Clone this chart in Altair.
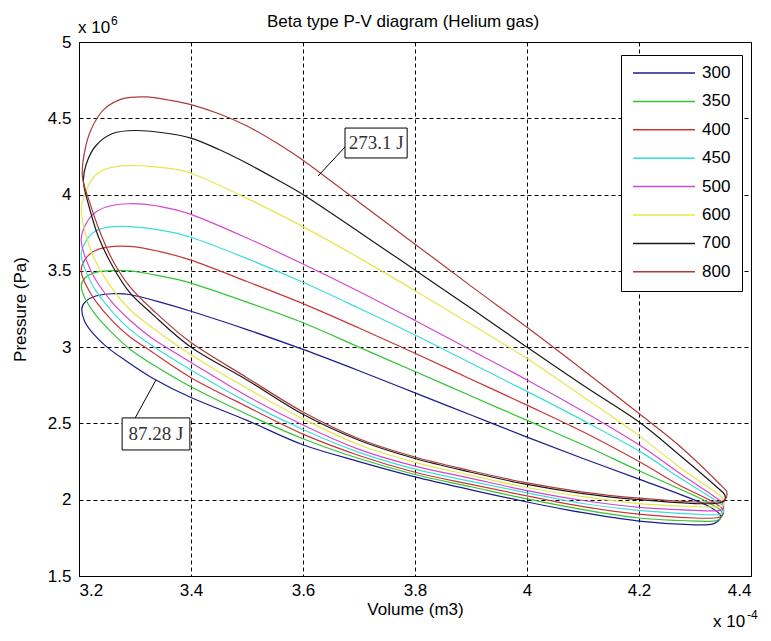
import altair as alt
import pandas as pd

# ---------------- data (V in 1e-4 m3, P in 1e6 Pa) ----------------
temps = ["300", "350", "400", "450", "500", "600", "700", "800"]
colors = ["#1c1c8c", "#33c433", "#c83737", "#3ddcdc", "#d247d2", "#e6e64a", "#1a1a1a", "#b03a3a"]

v300 = [3.205, 3.212, 3.23, 3.26, 3.29, 3.34, 3.40, 3.50, 3.60, 3.70, 3.80, 3.90, 4.00, 4.10, 4.20, 4.27, 4.32, 4.345,
        4.335, 4.30, 4.20, 4.10, 4.00, 3.90, 3.80, 3.70, 3.60, 3.50, 3.40, 3.33, 3.28, 3.25, 3.225, 3.21]
p300 = [3.25, 3.30, 3.335, 3.35, 3.345, 3.30, 3.235, 3.115, 2.985, 2.845, 2.70, 2.555, 2.41, 2.27, 2.135, 2.04, 1.965, 1.90,
        1.845, 1.835, 1.86, 1.915, 1.985, 2.065, 2.15, 2.25, 2.36, 2.52, 2.67, 2.80, 2.92, 3.0, 3.09, 3.17]

v350 = [3.204, 3.21, 3.225, 3.25, 3.29, 3.34, 3.40, 3.50, 3.60, 3.70, 3.80, 3.90, 4.00, 4.10, 4.20, 4.27, 4.325, 4.348,
        4.34, 4.30, 4.20, 4.10, 4.00, 3.90, 3.80, 3.70, 3.60, 3.50, 3.40, 3.33, 3.29, 3.26, 3.23, 3.212]
p350 = [3.40, 3.45, 3.485, 3.50, 3.50, 3.47, 3.42, 3.295, 3.16, 3.0, 2.84, 2.68, 2.52, 2.36, 2.19, 2.075, 1.98, 1.92,
        1.865, 1.86, 1.88, 1.935, 2.005, 2.085, 2.165, 2.27, 2.40, 2.56, 2.74, 2.89, 2.99, 3.09, 3.21, 3.31]

v400 = [3.204, 3.21, 3.225, 3.25, 3.29, 3.34, 3.40, 3.50, 3.60, 3.70, 3.80, 3.90, 4.00, 4.10, 4.20, 4.27, 4.33, 4.35,
        4.343, 4.30, 4.20, 4.10, 4.00, 3.90, 3.80, 3.70, 3.60, 3.50, 3.40, 3.33, 3.29, 3.26, 3.23, 3.212]
p400 = [3.50, 3.57, 3.625, 3.655, 3.66, 3.63, 3.57, 3.43, 3.285, 3.125, 2.96, 2.79, 2.62, 2.445, 2.25, 2.10, 1.99, 1.935,
        1.885, 1.88, 1.905, 1.955, 2.025, 2.10, 2.18, 2.29, 2.43, 2.61, 2.80, 2.97, 3.07, 3.17, 3.30, 3.41]

v450 = [3.204, 3.21, 3.225, 3.25, 3.29, 3.34, 3.40, 3.50, 3.60, 3.70, 3.80, 3.90, 4.00, 4.10, 4.20, 4.27, 4.335, 4.35,
        4.345, 4.30, 4.20, 4.10, 4.00, 3.90, 3.80, 3.70, 3.60, 3.50, 3.40, 3.33, 3.29, 3.26, 3.23, 3.212]
p450 = [3.60, 3.68, 3.75, 3.785, 3.79, 3.77, 3.72, 3.58, 3.425, 3.255, 3.08, 2.895, 2.71, 2.52, 2.32, 2.15, 2.0, 1.955,
        1.905, 1.905, 1.93, 1.975, 2.045, 2.12, 2.20, 2.31, 2.46, 2.64, 2.85, 3.01, 3.12, 3.23, 3.37, 3.50]

v500 = [3.204, 3.21, 3.225, 3.25, 3.29, 3.34, 3.40, 3.50, 3.60, 3.70, 3.80, 3.90, 4.00, 4.10, 4.20, 4.27, 4.335, 4.35,
        4.345, 4.30, 4.20, 4.10, 4.00, 3.90, 3.80, 3.70, 3.60, 3.50, 3.40, 3.33, 3.29, 3.26, 3.23, 3.212]
p500 = [3.70, 3.79, 3.87, 3.92, 3.94, 3.925, 3.87, 3.715, 3.545, 3.365, 3.175, 2.98, 2.785, 2.58, 2.36, 2.18, 2.02, 1.97,
        1.93, 1.93, 1.95, 1.995, 2.06, 2.14, 2.22, 2.33, 2.49, 2.68, 2.90, 3.06, 3.18, 3.29, 3.44, 3.58]

v600 = [3.204, 3.21, 3.225, 3.25, 3.29, 3.34, 3.40, 3.50, 3.60, 3.70, 3.80, 3.90, 4.00, 4.10, 4.20, 4.27, 4.34, 4.352,
        4.345, 4.30, 4.20, 4.10, 4.00, 3.90, 3.80, 3.70, 3.60, 3.50, 3.40, 3.33, 3.29, 3.26, 3.23, 3.212]
p600 = [3.90, 4.0, 4.11, 4.17, 4.19, 4.18, 4.14, 3.975, 3.79, 3.585, 3.37, 3.15, 2.925, 2.675, 2.42, 2.22, 2.04, 1.99,
        1.955, 1.955, 1.975, 2.02, 2.08, 2.16, 2.245, 2.36, 2.53, 2.73, 2.95, 3.13, 3.25, 3.38, 3.56, 3.74]

v700 = [3.208, 3.213, 3.23, 3.26, 3.30, 3.35, 3.40, 3.45, 3.50, 3.55, 3.60, 3.70, 3.80, 3.90, 4.00, 4.10, 4.20, 4.27, 4.34, 4.354,
        4.345, 4.30, 4.20, 4.10, 4.00, 3.90, 3.80, 3.70, 3.60, 3.50, 3.40, 3.33, 3.29, 3.26, 3.235, 3.218]
p700 = [4.08, 4.20, 4.32, 4.40, 4.42, 4.405, 4.37, 4.295, 4.205, 4.105, 4.0, 3.755, 3.505, 3.255, 3.0, 2.75, 2.51, 2.30, 2.08, 2.02,
        1.98, 1.975, 2.0, 2.04, 2.10, 2.18, 2.27, 2.39, 2.56, 2.785, 3.0, 3.22, 3.36, 3.53, 3.72, 3.92]

v800 = [3.206, 3.21, 3.222, 3.245, 3.28, 3.32, 3.36, 3.40, 3.45, 3.50, 3.55, 3.60, 3.70, 3.80, 3.90, 4.00, 4.10, 4.20, 4.27, 4.345, 4.357,
        4.348, 4.30, 4.20, 4.10, 4.00, 3.90, 3.80, 3.70, 3.60, 3.50, 3.40, 3.33, 3.29, 3.26, 3.237, 3.218]
p800 = [4.12, 4.28, 4.43, 4.56, 4.63, 4.64, 4.62, 4.59, 4.53, 4.45, 4.345, 4.225, 3.95, 3.675, 3.40, 3.13, 2.85, 2.565, 2.36, 2.10, 2.04,
        1.99, 1.985, 2.01, 2.05, 2.11, 2.19, 2.28, 2.40, 2.575, 2.80, 3.03, 3.25, 3.40, 3.57, 3.76, 3.96]

x_ticks = [3.2, 3.4, 3.6, 3.8, 4.0, 4.2, 4.4]
y_ticks = [1.5, 2.0, 2.5, 3.0, 3.5, 4.0, 4.5, 5.0]

ann_text = ["273.1 J", "87.28 J"]
ann_x = [3.7305, 3.3375]
ann_y = [4.338, 2.431]
box_x1 = [3.675, 3.277]
box_x2 = [3.786, 3.398]
box_y1 = [4.24, 2.326]
box_y2 = [4.436, 2.536]
lead_x1 = [3.675, 3.300]
lead_y1 = [4.312, 2.534]
lead_x2 = [3.627, 3.3375]
lead_y2 = [4.122, 2.785]

# ---------------- build table ----------------
loops = {"300": (v300, p300), "350": (v350, p350), "400": (v400, p400), "450": (v450, p450),
         "500": (v500, p500), "600": (v600, p600), "700": (v700, p700), "800": (v800, p800)}
rows = []
for t in temps:
    vs, ps = loops[t]
    for i, (a, b) in enumerate(zip(vs, ps)):
        rows.append({"T": t, "V": a, "P": b, "i": i})
df = pd.DataFrame(rows)

ann = pd.DataFrame({"text": ann_text, "x": ann_x, "y": ann_y,
                    "bx1": box_x1, "bx2": box_x2, "by1": box_y1, "by2": box_y2,
                    "lx1": lead_x1, "ly1": lead_y1, "lx2": lead_x2, "ly2": lead_y2})

FONT = "Liberation Sans"
xs = alt.Scale(domain=[3.2, 4.4], nice=False, zero=False)
ys = alt.Scale(domain=[1.5, 5.0], nice=False, zero=False)

grid_kw = dict(grid=True, gridColor="black", gridDash=[4, 3], gridOpacity=1, gridWidth=1,
               ticks=False, domain=False, labelFont=FONT, labelFontSize=17, labelColor="black",
               titleFont=FONT, titleFontSize=17, titleFontWeight="normal", titleColor="black")

lines = alt.Chart(df).mark_line(strokeWidth=1.2, interpolate="cardinal-closed").encode(
    x=alt.X("V:Q", scale=xs, title="Volume (m3)",
            axis=alt.Axis(values=x_ticks, format="~g", labelPadding=6, titlePadding=3, **grid_kw)),
    y=alt.Y("P:Q", scale=ys, title="Pressure (Pa)",
            axis=alt.Axis(values=y_ticks, format="~g", labelPadding=8, titlePadding=18, **grid_kw)),
    color=alt.Color("T:N", scale=alt.Scale(domain=temps, range=colors),
                    legend=alt.Legend(title=None, orient="none", legendX=542, legendY=13,
                                      symbolType="stroke", symbolSize=3844, symbolStrokeWidth=1.5,
                                      clipHeight=14, rowPadding=11.4, padding=11, labelOffset=6,
                                      labelFont=FONT, labelFontSize=17, labelColor="black",
                                      strokeColor="black", fillColor="white", symbolOpacity=1)),
    order="i:Q",
)

leaders = alt.Chart(ann).mark_rule(color="black", strokeWidth=1).encode(
    x=alt.X("lx1:Q", scale=xs, title="Volume (m3)"), y=alt.Y("ly1:Q", scale=ys, title="Pressure (Pa)"),
    x2="lx2:Q", y2="ly2:Q")

boxes = alt.Chart(ann).mark_rect(fill="white", stroke="black", strokeWidth=1).encode(
    x=alt.X("bx1:Q", scale=xs, title="Volume (m3)"), x2="bx2:Q",
    y=alt.Y("by1:Q", scale=ys, title="Pressure (Pa)"), y2="by2:Q")

labels = alt.Chart(ann).mark_text(font="Liberation Serif", fontSize=19, color="#333333").encode(
    x=alt.X("x:Q", scale=xs, title="Volume (m3)"), y=alt.Y("y:Q", scale=ys, title="Pressure (Pa)"),
    text="text:N")

one = pd.DataFrame({"a": [0]})
title_txt = alt.Chart(one).mark_text(text="Beta type P-V diagram (Helium gas)", align="center",
                                     baseline="alphabetic", font=FONT, fontSize=17,
                                     color="black").encode(x=alt.value(324), y=alt.value(-15))
exp_y = alt.Chart(one).mark_text(text="x 10", align="left", baseline="alphabetic", font=FONT,
                                 fontSize=17, color="black").encode(x=alt.value(-1), y=alt.value(-9))
exp_y2 = alt.Chart(one).mark_text(text="6", align="left", baseline="alphabetic", font=FONT,
                                  fontSize=12, color="black").encode(x=alt.value(32), y=alt.value(-17))
exp_x = alt.Chart(one).mark_text(text="x 10", align="left", baseline="alphabetic", font=FONT,
                                 fontSize=17, color="black").encode(x=alt.value(634), y=alt.value(585))
exp_x2 = alt.Chart(one).mark_text(text="-4", align="left", baseline="alphabetic", font=FONT,
                                  fontSize=12, color="black").encode(x=alt.value(668), y=alt.value(577))

chart = alt.layer(lines, leaders, boxes, labels, title_txt, exp_y, exp_y2, exp_x, exp_x2).properties(
    width=672, height=534,
    autosize=alt.AutoSizeParams(type="none"),
    padding={"left": 71, "top": 34, "right": 12, "bottom": 57},
    background="white",
).configure_view(stroke="black", strokeWidth=1)

chart.save("out.html", embed_options={"renderer": "svg", "actions": False})
